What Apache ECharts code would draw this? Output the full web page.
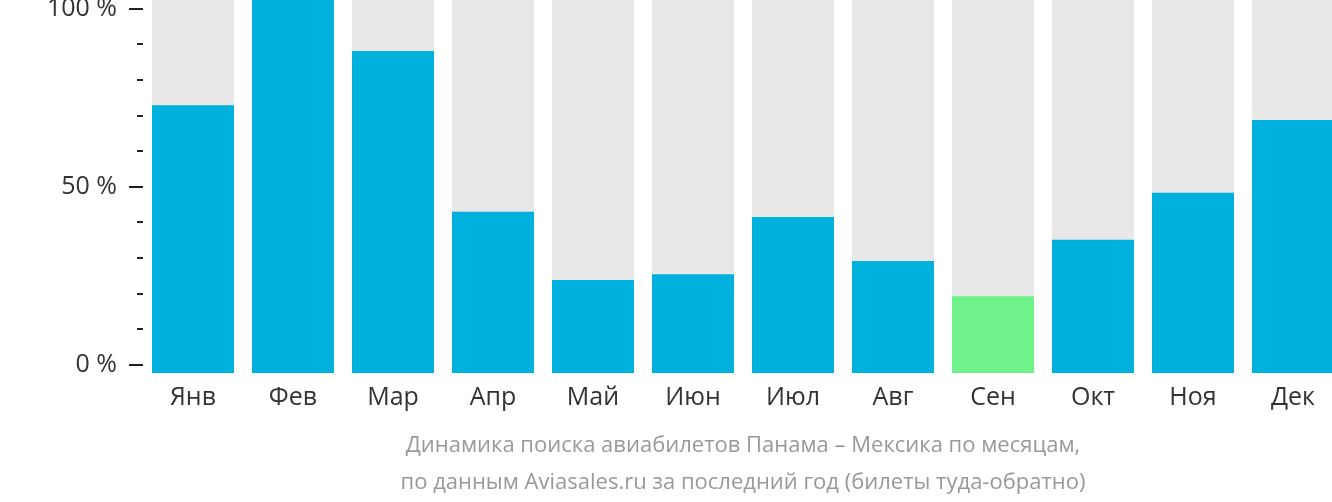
<!DOCTYPE html>
<html><head><meta charset="utf-8">
<script src="https://cdn.jsdelivr.net/npm/echarts@6/dist/echarts.min.js"></script>
<style>html,body{margin:0;padding:0;background:#fff}#c{width:1332px;height:502px}</style>
</head><body><div id="c"></div>
<script>
const months = ['Янв','Фев','Мар','Апр','Май','Июн','Июл','Авг','Сен','Окт','Ноя','Дек'];
const values = [71.8, 100, 86.3, 43.2, 24.9, 26.5, 41.8, 30.0, 20.6, 35.7, 48.3, 67.8];
const highlightIndex = 8;
const fullValues = [100,100,100,100,100,100,100,100,100,100,100,100];
const yTicks = [0, 50, 100];
const titleLines = ['Динамика поиска авиабилетов Панама – Мексика по месяцам,', 'по данным Aviasales.ru за последний год (билеты туда-обратно)'];

const font = '"Open Sans", "Noto Sans", sans-serif';
const chart = echarts.init(document.getElementById('c'), null, {renderer:'canvas'});
chart.setOption({
  animation: false,
  grid: [
    {left: 143, width: 1200, top: 8.5, height: 356, outerBoundsMode: 'none', containLabel: false},
    {left: 143, width: 1200, top: 0, height: 373, outerBoundsMode: 'none', containLabel: false}
  ],
  xAxis: [
    {gridIndex: 0, type: 'category', data: months, show: false},
    {gridIndex: 1, type: 'category', data: months,
     axisLine: {show: false}, axisTick: {show: false},
     axisLabel: {color: '#333', fontSize: 25, fontFamily: font, margin: 12}}
  ],
  yAxis: [
    {gridIndex: 0, type: 'value', min: yTicks[0], max: yTicks[yTicks.length-1], interval: 50,
     axisLine: {show: false}, splitLine: {show: false},
     axisTick: {show: true, length: 14, lineStyle: {color: '#222', width: 2}},
     minorTick: {show: true, splitNumber: 5, length: 6, lineStyle: {color: '#222', width: 2}},
     minorSplitLine: {show: false},
     axisLabel: {color: '#333', fontSize: 25, fontFamily: font, margin: 26, formatter: '{value} %'}},
    {gridIndex: 1, type: 'value', min: 0, max: 100, show: false}
  ],
  series: [
    {type: 'bar', xAxisIndex: 1, yAxisIndex: 1, data: fullValues, barWidth: 82,
     itemStyle: {color: '#e8e8e8'}, silent: true},
    {type: 'bar', xAxisIndex: 1, yAxisIndex: 1, barGap: '-100%', barWidth: 82,
     data: values.map((v, i) => ({value: v, itemStyle: {color: i === highlightIndex ? '#6ff28a' : '#00b1dd'}}))}
  ],
  graphic: [
    {type: 'text', x: 743, y: 427,
     style: {text: titleLines.join('\n'), textAlign: 'center', fill: '#999', fontSize: 22,
             fontFamily: font, lineHeight: 37}}
  ]
});
</script></body></html>
